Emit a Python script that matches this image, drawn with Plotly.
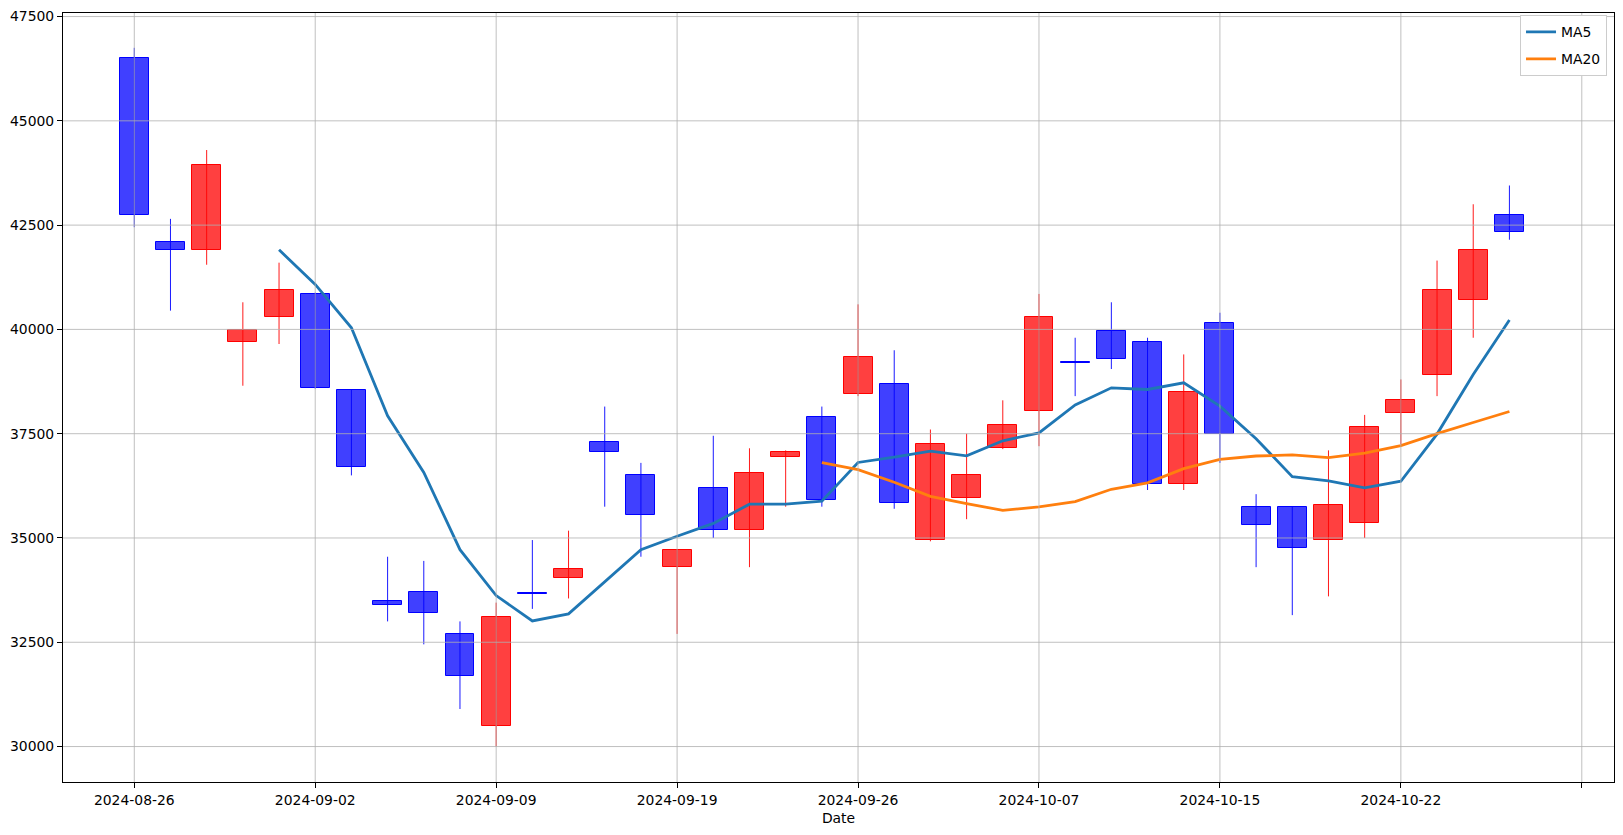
import plotly.graph_objects as go
import pandas as pd

dates = ["2024-08-26", "2024-08-27", "2024-08-28", "2024-08-29", "2024-08-30",
         "2024-09-02", "2024-09-03", "2024-09-04", "2024-09-05", "2024-09-06",
         "2024-09-09", "2024-09-10", "2024-09-11", "2024-09-12", "2024-09-13",
         "2024-09-19", "2024-09-20", "2024-09-23", "2024-09-24", "2024-09-25",
         "2024-09-26", "2024-09-27", "2024-09-30", "2024-10-02", "2024-10-04",
         "2024-10-07", "2024-10-08", "2024-10-10", "2024-10-11", "2024-10-14",
         "2024-10-15", "2024-10-16", "2024-10-17", "2024-10-18", "2024-10-21",
         "2024-10-22", "2024-10-23", "2024-10-24", "2024-10-25"]

opens = [46500, 42100, 41900, 39700, 40300, 40850, 38550, 33500, 33700, 32700,
         30500, 33670, 34050, 37300, 36500, 34300, 36200, 35200, 36950, 37900,
         38450, 38700, 34950, 35950, 37150, 38050, 39210, 39950, 39700, 36300,
         40150, 35750, 35750, 34950, 35350, 38000, 38900, 40700, 42750]
highs = [46750, 42650, 44300, 40650, 41600, 40880, 38560, 34550, 34450, 33000,
         33450, 34950, 35175, 38150, 36800, 34710, 37450, 37150, 37100, 38150,
         40600, 39500, 37600, 37500, 38300, 40850, 39800, 40650, 39800, 39400,
         40400, 36050, 35760, 37100, 37950, 38800, 41650, 43000, 43450]
lows = [42450, 40450, 41550, 38650, 39650, 38580, 36500, 33000, 32450, 30900,
        30000, 33300, 33550, 35750, 34550, 32700, 35000, 34300, 35750, 35750,
        38400, 35700, 34920, 35450, 37130, 37200, 38400, 39050, 36150, 36150,
        36800, 34300, 33150, 33600, 35000, 37250, 38400, 39800, 42150]
closes = [42750, 41900, 43950, 39990, 40950, 38600, 36700, 33400, 33200, 31700,
          33100, 33650, 34250, 37050, 35550, 34700, 35200, 36550, 37050, 35900,
          39350, 35850, 37250, 36500, 37700, 40300, 39200, 39300, 36300, 38500,
          37500, 35300, 34750, 35800, 37650, 38300, 40950, 41900, 42325]

y_ticks = [30000, 32500, 35000, 37500, 40000, 42500, 45000, 47500]
x_tick_step = 5
x_tick_extra = [""]

n = len(dates)
idx = list(range(n))
ma5 = pd.Series(closes).rolling(5).mean()
ma20 = pd.Series(closes).rolling(20).mean()

up = [c >= o for o, c in zip(opens, closes)]
fill_cols = ["rgba(255,0,0,0.75)" if u else "rgba(0,0,255,0.75)" for u in up]
edge_cols = ["red" if u else "blue" for u in up]
bases = [min(o, c) for o, c in zip(opens, closes)]
heights = [max(abs(c - o), 1) for o, c in zip(opens, closes)]

fig = go.Figure()
fig.add_trace(go.Bar(x=idx, y=heights, base=bases, width=0.8,
                     marker=dict(color=fill_cols, line=dict(color=edge_cols, width=1)),
                     showlegend=False, hoverinfo="skip"))

for is_up, col in [(True, "rgba(255,0,0,0.9)"), (False, "rgba(0,0,255,0.9)")]:
    wx, wy = [], []
    for i in idx:
        if up[i] == is_up:
            wx += [i, i, None]
            wy += [lows[i], highs[i], None]
    fig.add_trace(go.Scatter(x=wx, y=wy, mode="lines", line=dict(color=col, width=1),
                             showlegend=False, hoverinfo="skip"))

fig.add_trace(go.Scatter(x=idx, y=ma5, mode="lines", name="MA5", legendgroup="a",
                         line=dict(color="#1f77b4", width=2.8)))
fig.add_trace(go.Scatter(x=idx, y=ma20, mode="lines", name="MA20", legendgroup="b",
                         line=dict(color="#ff7f0e", width=2.8)))

x_tickvals = list(range(0, n + 2, x_tick_step))
x_ticktext = [dates[v] for v in x_tickvals if v < n] + x_tick_extra
x_tickvals = x_tickvals[:len(x_ticktext)]

shapes = []
for v in x_tickvals:
    shapes.append(dict(type="line", xref="x", yref="y domain", x0=v, x1=v, y0=0, y1=1,
                       line=dict(color="#b0b0b0", width=0.8), layer="above"))
for v in y_ticks:
    shapes.append(dict(type="line", xref="x domain", yref="y", x0=0, x1=1, y0=v, y1=v,
                       line=dict(color="#b0b0b0", width=0.8), layer="above"))

font = dict(family="DejaVu Sans", size=13.9, color="black")
fig.update_layout(
    width=1623, height=835,
    margin=dict(l=63, r=8, t=10, b=53),
    paper_bgcolor="white", plot_bgcolor="white",
    font=font, barmode="overlay", bargap=0,
    shapes=shapes,
    legend=dict(x=0.9955, y=0.997, xanchor="right", yanchor="top",
                bgcolor="white", bordercolor="#cccccc", borderwidth=1,
                tracegroupgap=6, itemwidth=30,
                font=dict(family="DejaVu Sans", size=13.9)),
    xaxis=dict(range=[-1.97, 40.89], tickmode="array", tickvals=x_tickvals,
               ticktext=x_ticktext, showgrid=False, zeroline=False,
               showline=True, mirror=True, linecolor="black", linewidth=1,
               ticks="outside", ticklen=5, tickcolor="black",
               title=dict(text="Date", standoff=6, font=font)),
    yaxis=dict(range=[29150, 47585], tickmode="array", tickvals=y_ticks,
               ticktext=[str(v) for v in y_ticks], showgrid=False, zeroline=False,
               showline=True, mirror=True, linecolor="black", linewidth=1,
               ticks="outside", ticklen=5, tickcolor="black"),
)

fig.write_html("out.html", config={"displayModeBar": False},
               post_script="document.body.style.margin='0';document.body.style.padding='0';"
                           "document.documentElement.style.overflow='hidden';")
